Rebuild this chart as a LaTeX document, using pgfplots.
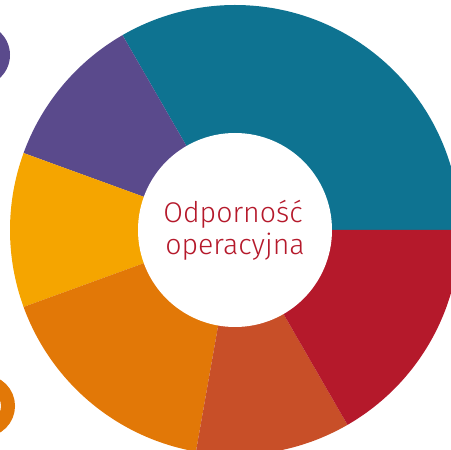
\documentclass[border=0pt]{standalone}
\usepackage{pgfplots}
\usepackage{pgfplotstable}
\pgfplotsset{compat=1.18}
\usepackage{fontspec}
\newfontfamily\lab{Fira Sans}[UprightFont=* Light]

\definecolor{cteal}{HTML}{0E7391}
\definecolor{cpurple}{HTML}{5A4A8C}
\definecolor{cyellow}{HTML}{F5A500}
\definecolor{corange}{HTML}{E27807}
\definecolor{cbrown}{HTML}{C84F28}
\definecolor{cred}{HTML}{B5192B}

% slice values, counter-clockwise from 3 o'clock
\pgfplotstableread{
value color
6 cteal
2 cpurple
2 cyellow
3 corange
2 cbrown
3 cred
}\slices

\begin{document}
\begin{tikzpicture}
\begin{axis}[
    x=1pt, y=1pt,
    xmin=0, xmax=451,
    ymin=0, ymax=450,
    scale only axis,
    hide axis,
    clip=true
]
    \coordinate (sw) at (axis cs:0,0);
    \coordinate (ne) at (axis cs:451,450);
    \def\acc{0}
    \pgfplotsforeachungrouped \i in {0,...,5} {
        \pgfplotstablegetelem{\i}{value}\of\slices
        \let\v\pgfplotsretval
        \pgfplotstablegetelem{\i}{color}\of\slices
        \let\c\pgfplotsretval
        \pgfmathsetmacro\a{\acc*360/18}
        \pgfmathsetmacro\acc{\acc+\v}
        \pgfmathsetmacro\b{\acc*360/18}
        \edef\cmd{\noexpand\fill[\c] (axis cs:235,220) -- ++(\a:225pt)
            arc[start angle=\a, end angle=\b, radius=225pt] -- cycle;}
        \cmd
    }
    \fill[white] (axis cs:235,220) circle[radius=97pt];
    % partial markers at the left edge
    \fill[cpurple] (axis cs:-21,395) circle[radius=31pt];
    \draw[corange, line width=14pt] (axis cs:-16,44) circle[radius=24pt];
    \node[anchor=base, text=cred, font=\lab\fontsize{28.5}{32}\selectfont] at (axis cs:233,227) {Odporność};
    \node[anchor=base, text=cred, font=\lab\fontsize{28.5}{32}\selectfont] at (axis cs:235,195) {operacyjna};
\end{axis}
\pgfresetboundingbox
\useasboundingbox (sw) rectangle (ne);
\end{tikzpicture}
\end{document}
